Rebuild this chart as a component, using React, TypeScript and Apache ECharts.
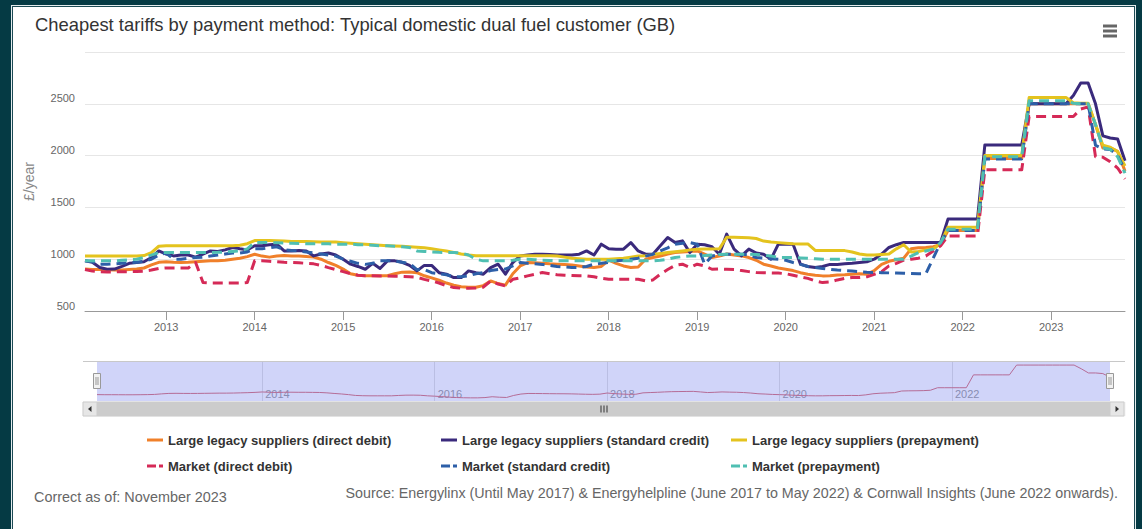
import React, { useEffect, useRef } from "react";
import * as echarts from "echarts";

// ---------- categories (monthly, Feb 2012 – Nov 2023) ----------
const months: string[] = [];
for (let y = 2012; y <= 2023; y++) {
  for (let m = 1; m <= 12; m++) {
    if ((y === 2012 && m < 2) || (y === 2023 && m > 11)) continue;
    months.push(`${y}-${m < 10 ? "0" + m : m}`);
  }
}

// ---------- series values (£/year) ----------
const llDirectDebit = [
  905, 900, 900, 898, 896, 896, 900, 905, 915, 945, 970,
  975, 970, 968, 970, 975, 980, 985, 985, 990, 1000, 1010, 1025,
  1048, 1030, 1020, 1030, 1035, 1030, 1030, 1025, 1020, 1000, 968, 940,
  905, 860, 845, 840, 840, 840, 840, 860, 875, 877, 870, 840,
  820, 797, 770, 749, 735, 730, 730, 745, 790, 765, 750, 860,
  935, 967, 965, 960, 955, 952, 950, 945, 935, 925, 919, 930,
  990, 960, 935, 920, 925, 1000, 1016, 1030, 1050, 1064, 1070, 1075,
  1080, 1050, 1016, 1030, 1050, 1040, 1032, 1016, 990, 952, 935, 915,
  903, 890, 870, 855, 845, 839, 840, 848, 850, 855, 860, 855,
  890, 950, 980, 995, 1010, 1100, 1110, 1113, 1120, 1140, 1277, 1277,
  1277, 1277, 1277, 1971, 1971, 1971, 1971, 1971, 1971, 2500, 2500, 2500,
  2500, 2500, 2500, 2500, 2500, 2500, 2300, 2074, 2074, 2040, 1850,
];

const llStandardCredit = [
  984, 970, 920, 903, 905, 930, 960, 967, 975, 1016, 1080,
  1050, 1032, 1040, 1040, 1020, 1050, 1080, 1075, 1090, 1113, 1100, 1090,
  1130, 1130, 1140, 1145, 1080, 1080, 1085, 1080, 1032, 1050, 1060, 1040,
  1000, 952, 930, 903, 960, 910, 984, 984, 970, 940, 887, 940,
  940, 870, 855, 823, 823, 887, 870, 855, 919, 952, 855, 968,
  1032, 1040, 1048, 1048, 1045, 1040, 1040, 1040, 1048, 1080, 1040, 1145,
  1100, 1097, 1097, 1161, 1080, 1048, 1048, 1130, 1210, 1161, 1177, 1064,
  1145, 1140, 1120, 1048, 1242, 1097, 1032, 1097, 1060, 1048, 1000, 1145,
  1145, 1145, 952, 930, 919, 930, 950, 950, 955, 960, 968, 975,
  1000, 1050, 1113, 1140, 1161, 1161, 1161, 1161, 1161, 1161, 1387, 1387,
  1387, 1387, 1387, 2103, 2103, 2103, 2103, 2103, 2103, 2500, 2500, 2500,
  2500, 2500, 2500, 2580, 2700, 2700, 2500, 2190, 2170, 2160, 1950,
];

const llPrepayment = [
  1032, 1032, 1032, 1032, 1032, 1032, 1032, 1032, 1035, 1064, 1125,
  1130, 1130, 1130, 1130, 1130, 1130, 1130, 1130, 1130, 1130, 1135, 1150,
  1180, 1180, 1180, 1178, 1175, 1172, 1170, 1170, 1168, 1165, 1165, 1165,
  1160, 1155, 1150, 1145, 1140, 1135, 1131, 1128, 1125, 1120, 1115, 1110,
  1100, 1090, 1080, 1066, 1050, 1040, 1034, 1034, 1034, 1034, 1034, 1034,
  1034, 1034, 1034, 1034, 1034, 1030, 1020, 1010, 1005, 1000, 1000, 1000,
  1000, 1005, 1010, 1020, 1030, 1034, 1045, 1055, 1064, 1072, 1080, 1088,
  1095, 1098, 1098, 1100, 1212, 1212, 1210, 1208, 1200, 1175, 1165, 1160,
  1155, 1150, 1147, 1147, 1085, 1083, 1083, 1083, 1083, 1070, 1050, 1040,
  1040, 1045, 1050, 1100, 1140, 1070, 1075, 1090, 1100, 1150, 1309, 1309,
  1309, 1309, 1309, 2000, 2000, 2000, 2000, 2000, 2000, 2560, 2560, 2560,
  2560, 2560, 2560, 2510, 2505, 2505, 2300, 2100, 2080, 2040, 1900,
];

const mktDirectDebit = [
  900, 885, 878, 877, 877, 880, 880, 882, 885, 895, 910,
  915, 915, 915, 915, 968, 775, 770, 770, 770, 770, 770, 775,
  984, 984, 980, 975, 970, 968, 965, 960, 955, 940, 919, 900,
  880, 860, 845, 840, 840, 839, 839, 836, 834, 830, 825, 805,
  790, 770, 745, 726, 720, 720, 722, 730, 790, 760, 742, 806,
  820, 839, 855, 871, 860, 850, 845, 842, 840, 839, 830, 815,
  806, 806, 806, 806, 806, 790, 800, 855, 900, 940, 952, 919,
  952, 935, 903, 905, 903, 900, 890, 880, 871, 870, 868, 866,
  860, 845, 830, 815, 790, 774, 780, 800, 815, 823, 823, 830,
  855, 880, 935, 960, 990, 1000, 1010, 1030, 1080, 1130, 1225, 1225,
  1225, 1225, 1225, 1863, 1863, 1863, 1863, 1863, 1863, 2377, 2377, 2377,
  2377, 2377, 2377, 2377, 2450, 2470, 1990, 1985, 1940, 1880, 1775,
];

const mktStandardCredit = [
  984, 975, 950, 951, 955, 960, 965, 970, 980, 1000, 1040,
  1060, 1000, 1000, 1010, 1016, 1020, 1030, 1040, 1050, 1060, 1060, 1070,
  1100, 1100, 1110, 1120, 1090, 1085, 1080, 1070, 1060, 1050, 1040, 1030,
  1000, 980, 960, 950, 960, 984, 984, 984, 970, 960, 900, 900,
  870, 860, 850, 830, 830, 840, 860, 870, 890, 900, 905, 935,
  968, 960, 955, 950, 940, 930, 925, 920, 920, 930, 952, 960,
  968, 984, 990, 1000, 1010, 1030, 1048, 1080, 1110, 1145, 1155, 1161,
  1145, 952, 1032, 1040, 1048, 1048, 1048, 1040, 1016, 1010, 1005, 1000,
  990, 968, 950, 930, 919, 910, 903, 895, 890, 885, 880, 875,
  872, 870, 868, 866, 865, 862, 860, 860, 1010, 1160, 1276, 1276,
  1276, 1276, 1276, 1968, 1968, 1968, 1968, 1968, 1968, 2500, 2500, 2500,
  2500, 2500, 2500, 2500, 2500, 2500, 2100, 2065, 2060, 2000, 1860,
];

const mktPrepayment = [
  984, 984, 984, 984, 984, 990, 995, 1000, 1016, 1040, 1064,
  1064, 1064, 1064, 1064, 1064, 1064, 1064, 1066, 1070, 1075, 1080, 1100,
  1161, 1161, 1160, 1158, 1155, 1155, 1152, 1150, 1150, 1148, 1148, 1145,
  1145, 1145, 1140, 1140, 1135, 1130, 1130, 1125, 1120, 1113, 1080, 1075,
  1070, 1066, 1064, 1064, 1060, 1040, 1000, 984, 984, 984, 984, 990,
  1000, 1000, 995, 990, 988, 985, 984, 984, 984, 984, 984, 984,
  984, 984, 984, 984, 984, 984, 984, 990, 1000, 1016, 1025, 1032,
  1032, 1035, 1040, 1045, 1048, 1048, 1048, 1048, 1045, 1040, 1030, 1016,
  1016, 1016, 1012, 1008, 1004, 1000, 1000, 1000, 1000, 1000, 1000, 1000,
  1000, 1000, 1000, 1000, 1000, 1030, 1064, 1080, 1097, 1161, 1290, 1290,
  1290, 1290, 1290, 1990, 1990, 1990, 1990, 1990, 1990, 2530, 2530, 2530,
  2530, 2530, 2530, 2505, 2500, 2500, 2300, 2075, 2060, 1990, 1830,
];

const seriesNames = [
  "Large legacy suppliers (direct debit)",
  "Large legacy suppliers (standard credit)",
  "Large legacy suppliers (prepayment)",
  "Market (direct debit)",
  "Market (standard credit)",
  "Market (prepayment)",
];
const seriesColors = ["#f0802a", "#3a2a7c", "#e4c31e", "#d52a57", "#2d5fa8", "#4fbfb2"];
const seriesDashed = [false, false, false, true, true, true];
const seriesData = [llDirectDebit, llStandardCredit, llPrepayment, mktDirectDebit, mktStandardCredit, mktPrepayment];
const navigatorColor = "#d86a72";

const TITLE = "Cheapest tariffs by payment method: Typical domestic dual fuel customer (GB)";
const FOOT_LEFT = "Correct as of: November 2023";
const FOOT_RIGHT =
  "Source: Energylinx (Until May 2017) & Energyhelpline (June 2017 to May 2022) & Cornwall Insights (June 2022 onwards).";
const Y_NAME = "£/year";

const FONT = "'Liberation Sans', Arial, Helvetica, sans-serif";

// layout constants (decoration only)
const NAV_L = 97;
const NAV_R = 1110;
const NAV_T = 361;
const NAV_H = 40;
const SB_T = NAV_T + NAV_H + 1;
const SB_H = 14;

const isJan = (_i: number, v: string) => v.slice(5) === "01";
const isEvenJan = (_i: number, v: string) => v.slice(5) === "01" && Number(v.slice(0, 4)) % 2 === 0;

const solidIcon = "path://M0,0L16,0L16,3L0,3Z";
const dashIcon = "path://M0,0L9,0L9,3L0,3ZM12,0L16,0L16,3L12,3Z";

function buildOption(): any {
  const legendLefts = [147, 441, 731];
  const legendTops = [433.5, 459.5];
  const legends = seriesNames.map((name, i) => ({
    data: [name],
    left: legendLefts[i % 3],
    top: legendTops[Math.floor(i / 3)],
    padding: 0,
    itemWidth: 16,
    itemHeight: 3,
    icon: seriesDashed[i] ? dashIcon : solidIcon,
    textStyle: { color: "#333", fontSize: 13, fontWeight: "bold", fontFamily: FONT },
    selectedMode: false,
  }));

  const mainSeries = seriesNames.map((name, i) => ({
    type: "line",
    name,
    data: seriesData[i],
    xAxisIndex: 0,
    yAxisIndex: 0,
    symbol: "none",
    silent: true,
    z: 2 + i,
    itemStyle: { color: seriesColors[i] },
    lineStyle: {
      color: seriesColors[i],
      width: 3,
      type: seriesDashed[i] ? [10, 6] : "solid",
      cap: "butt",
      join: "round",
    },
  }));

  const handle = (cx: number) => ({
    type: "group",
    z: 120,
    children: [
      {
        type: "rect",
        z: 120,
        shape: { x: cx - 3.5, y: NAV_T + (NAV_H - 15) / 2, width: 7, height: 15 },
        style: { fill: "#f2f2f2", stroke: "#999", lineWidth: 1 },
      },
      {
        type: "line",
        z: 121,
        shape: { x1: cx - 1, y1: NAV_T + 16, x2: cx - 1, y2: NAV_T + 24 },
        style: { stroke: "#999", lineWidth: 1 },
      },
      {
        type: "line",
        z: 121,
        shape: { x1: cx + 1, y1: NAV_T + 16, x2: cx + 1, y2: NAV_T + 24 },
        style: { stroke: "#999", lineWidth: 1 },
      },
    ],
  });

  const midX = (NAV_L + NAV_R) / 2;

  return {
    animation: false,
    backgroundColor: "transparent",
    textStyle: { fontFamily: FONT },
    title: [
      {
        text: TITLE,
        left: 35,
        top: 15,
        padding: 0,
        textStyle: { color: "#333", fontSize: 18.4, fontWeight: "normal", fontFamily: FONT },
      },
      {
        text: FOOT_LEFT,
        left: 34,
        top: 490,
        padding: 0,
        textStyle: { color: "#666", fontSize: 14.4, fontWeight: "normal", fontFamily: FONT },
      },
      {
        text: FOOT_RIGHT,
        right: 24,
        top: 486,
        padding: 0,
        textStyle: { color: "#666", fontSize: 14.3, fontWeight: "normal", fontFamily: FONT },
      },
    ],
    legend: legends,
    grid: [
      { left: 85, right: 17, top: 52, bottom: 218, outerBoundsMode: "none" },
      { left: NAV_L, right: 1142 - NAV_R, top: NAV_T, height: NAV_H, outerBoundsMode: "none" },
    ],
    xAxis: [
      {
        type: "category",
        gridIndex: 0,
        data: months,
        boundaryGap: false,
        axisLine: { show: true, lineStyle: { color: "#999", width: 1 } },
        axisTick: { show: true, interval: isJan, length: 9, lineStyle: { color: "#999" } },
        axisLabel: {
          interval: isJan,
          formatter: (v: string) => v.slice(0, 4),
          color: "#666",
          fontSize: 11,
          margin: 10,
          fontFamily: FONT,
        },
        splitLine: { show: false },
      },
      {
        type: "category",
        gridIndex: 1,
        data: months,
        boundaryGap: false,
        axisLine: { show: false },
        axisTick: { show: false },
        axisLabel: {
          inside: true,
          interval: isEvenJan,
          formatter: (v: string) => v.slice(0, 4),
          align: "left",
          color: "#999",
          fontSize: 11,
          margin: 2,
          padding: [0, 0, 0, 3],
          fontFamily: FONT,
        },
        splitLine: { show: true, interval: isEvenJan, lineStyle: { color: "#e0e0e0", width: 1 } },
      },
    ],
    yAxis: [
      {
        type: "value",
        gridIndex: 0,
        min: 500,
        max: 3000,
        interval: 500,
        name: Y_NAME,
        nameLocation: "middle",
        nameGap: 49,
        nameTextStyle: { color: "#888", fontSize: 14, fontFamily: FONT },
        axisLine: { show: false },
        axisTick: { show: false },
        axisLabel: {
          color: "#666",
          fontSize: 11,
          margin: 10,
          showMaxLabel: false,
          verticalAlign: "bottom",
          formatter: (v: number) => String(v),
          fontFamily: FONT,
        },
        splitLine: { show: true, lineStyle: { color: "#e6e6e6", width: 1 } },
      },
      {
        type: "value",
        gridIndex: 1,
        min: 560,
        max: 2720,
        show: false,
        splitLine: { show: false },
      },
    ],
    series: [
      ...mainSeries,
      {
        type: "line",
        name: "navigator",
        data: llDirectDebit,
        xAxisIndex: 1,
        yAxisIndex: 1,
        symbol: "none",
        silent: true,
        z: 2,
        lineStyle: { color: navigatorColor, width: 1 },
        itemStyle: { color: navigatorColor },
      },
    ],
    graphic: [
      // export menu icon
      { type: "rect", shape: { x: 1103, y: 24.5, width: 14, height: 3 }, style: { fill: "#666" } },
      { type: "rect", shape: { x: 1103, y: 29.5, width: 14, height: 3 }, style: { fill: "#666" } },
      { type: "rect", shape: { x: 1103, y: 34.5, width: 14, height: 3 }, style: { fill: "#666" } },
      // navigator selection mask
      {
        type: "rect",
        z: 100,
        shape: { x: NAV_L, y: NAV_T, width: NAV_R - NAV_L, height: NAV_H },
        style: { fill: "rgba(100,112,235,0.3)" },
      },
      // navigator outline
      {
        type: "line",
        z: 101,
        shape: { x1: NAV_L - 14, y1: NAV_T + 0.5, x2: NAV_R + 15, y2: NAV_T + 0.5 },
        style: { stroke: "#c8c8c8", lineWidth: 1 },
      },
      handle(NAV_L),
      handle(NAV_R),
      // scrollbar
      {
        type: "rect",
        z: 100,
        shape: { x: NAV_L - 14, y: SB_T, width: NAV_R - NAV_L + 29, height: SB_H },
        style: { fill: "#f2f2f2", stroke: "#f2f2f2" },
      },
      {
        type: "rect",
        z: 101,
        shape: { x: NAV_L, y: SB_T, width: NAV_R - NAV_L, height: SB_H },
        style: { fill: "#cccccc", stroke: "#cccccc" },
      },
      {
        type: "rect",
        z: 101,
        shape: { x: NAV_L - 14, y: SB_T, width: 14, height: SB_H },
        style: { fill: "#e6e6e6", stroke: "#cccccc" },
      },
      {
        type: "rect",
        z: 101,
        shape: { x: NAV_R, y: SB_T, width: 14, height: SB_H },
        style: { fill: "#e6e6e6", stroke: "#cccccc" },
      },
      {
        type: "polygon",
        z: 102,
        shape: { points: [[NAV_L - 9, SB_T + 7], [NAV_L - 5.5, SB_T + 4], [NAV_L - 5.5, SB_T + 10]] },
        style: { fill: "#333" },
      },
      {
        type: "polygon",
        z: 102,
        shape: { points: [[NAV_R + 9, SB_T + 7], [NAV_R + 5.5, SB_T + 4], [NAV_R + 5.5, SB_T + 10]] },
        style: { fill: "#333" },
      },
      ...[-3, 0, 3].map((d) => ({
        type: "line",
        z: 102,
        shape: { x1: midX + d + 0.5, y1: SB_T + 3.5, x2: midX + d + 0.5, y2: SB_T + 10.5 },
        style: { stroke: "#333", lineWidth: 1 },
      })),
    ],
  };
}

export default function App() {
  const ref = useRef<HTMLDivElement>(null);
  useEffect(() => {
    if (!ref.current) return;
    const chart = echarts.init(ref.current, undefined, { renderer: "svg" });
    chart.setOption(buildOption());
    return () => chart.dispose();
  }, []);
  return (
    <div
      style={{
        position: "fixed",
        left: 0,
        top: 0,
        width: 1142,
        height: 529,
        background: "#053a44",
        overflow: "hidden",
      }}
    >
      <div
        style={{
          position: "absolute",
          left: 11,
          top: 5,
          width: 1125,
          height: 540,
          boxSizing: "border-box",
          background: "#fff",
          border: "1px solid #e4ecee",
          boxShadow: "inset 0 0 0 1px #1c4a54",
        }}
      />
      <div ref={ref} style={{ position: "absolute", left: 0, top: 0, width: 1142, height: 529 }} />
    </div>
  );
}
